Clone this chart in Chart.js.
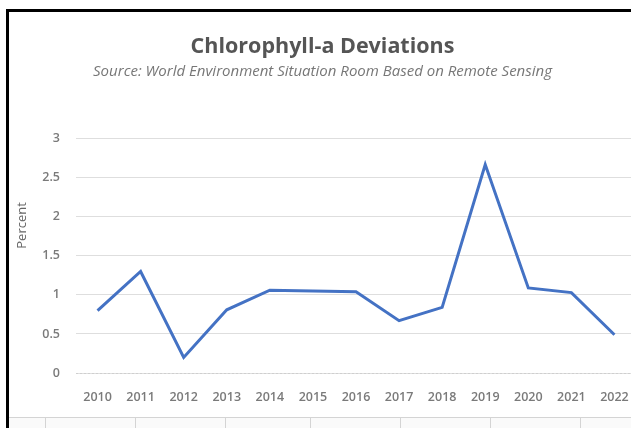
<!DOCTYPE html>
<html lang="en">
<head>
    <meta charset="UTF-8">
    <title>Chlorophyll-a Deviations</title>
    <script src="https://cdn.jsdelivr.net/npm/chart.js"></script>
    <style>
        html, body { margin: 0; padding: 0; background: #fff; overflow: hidden; width: 631px; height: 428px; }
        #frame {
            position: absolute; left: 6px; top: 9px;
            width: 660px; height: 430px;
            border-left: 3px solid #000; border-top: 3px solid #000;
        }
        #grafico { position: absolute; left: 0; top: 0; }
        #celulas {
            position: absolute; left: 0; top: 405px; width: 660px; height: 30px;
            border-top: 1px solid #d4d4d4; background: #fafafa;
        }
        .col { position: absolute; top: 0; height: 30px; border-left: 1px solid #d4d4d4; }
    </style>
</head>
<body>
    <div id="frame">
        <canvas id="grafico" width="640" height="410"></canvas>
        <div id="celulas">
            <div class="col" style="left:36px"></div>
            <div class="col" style="left:126px"></div>
            <div class="col" style="left:216px"></div>
            <div class="col" style="left:301px"></div>
            <div class="col" style="left:391px"></div>
            <div class="col" style="left:481px"></div>
            <div class="col" style="left:571px"></div>
        </div>
    </div>

    <script>
        // Dados
        var anos = ["2010", "2011", "2012", "2013", "2014", "2015", "2016",
                    "2017", "2018", "2019", "2020", "2021", "2022"];
        var desvios = [0.80, 1.30, 0.20, 0.81, 1.06, 1.05, 1.04,
                       0.67, 0.84, 2.67, 1.09, 1.03, 0.49];
        var ticksY = [0, 0.5, 1, 1.5, 2, 2.5, 3];

        var fonte = "'Open Sans', Lato, sans-serif";

        // titulo do eixo Y desenhado a mao (fica acima do centro)
        var tituloEixo = {
            id: "tituloEixo",
            afterDraw: function (chart) {
                var ctx = chart.ctx;
                var area = chart.chartArea;
                ctx.save();
                ctx.translate(13, area.top + (area.bottom - area.top) * 0.37);
                ctx.rotate(-Math.PI / 2);
                ctx.fillStyle = "#666666";
                ctx.font = "13px " + fonte;
                ctx.textAlign = "center";
                ctx.textBaseline = "middle";
                ctx.fillText("Percent", 0, 0);
                ctx.restore();
            }
        };

        // linha do zero tracejada
        var linhaZero = {
            id: "linhaZero",
            beforeDatasetsDraw: function (chart) {
                var c = chart.ctx;
                var area = chart.chartArea;
                var y0 = Math.round(chart.scales.y.getPixelForValue(0));
                c.save();
                c.strokeStyle = "#cfcfcf";
                c.lineWidth = 1;
                c.setLineDash([2, 2]);
                c.beginPath();
                c.moveTo(area.left, y0 + 0.5);
                c.lineTo(area.right, y0 + 0.5);
                c.stroke();
                c.restore();
            }
        };

        var ctx = document.getElementById("grafico").getContext("2d");
        var grafico = new Chart(ctx, {
            type: "line",
            data: {
                labels: anos,
                datasets: [{
                    label: "Chlorophyll-a",
                    data: desvios,
                    borderColor: "#4472c4",
                    borderWidth: 3,
                    pointRadius: 0,
                    tension: 0,
                    fill: false
                }]
            },
            options: {
                responsive: false,
                animation: false,
                devicePixelRatio: 1,
                layout: { padding: { left: 0, right: 13, top: 0, bottom: 0 } },
                plugins: {
                    legend: { display: false },
                    tooltip: { enabled: false },
                    title: {
                        display: true,
                        text: "Chlorophyll-a Deviations",
                        color: "#555555",
                        font: { family: fonte, size: 21.5, weight: "bold" },
                        padding: { top: 22, bottom: 2 }
                    },
                    subtitle: {
                        display: true,
                        text: "Source: World Environment Situation Room Based on Remote Sensing",
                        color: "#777777",
                        font: { family: fonte, size: 15, style: "italic" },
                        padding: { top: 1, bottom: 58 }
                    }
                },
                scales: {
                    x: {
                        offset: true,
                        grid: { display: false, drawTicks: false },
                        border: { display: false },
                        ticks: {
                            color: "#7a7a7a",
                            padding: 17,
                            maxRotation: 0,
                            autoSkip: false,
                            font: { family: fonte, size: 12.5, weight: "600" }
                        }
                    },
                    y: {
                        min: 0,
                        max: 3,
                        afterFit: function (scale) { scale.width = 67; },
                        afterBuildTicks: function (scale) {
                            scale.ticks = ticksY.map(function (v) { return { value: v }; });
                        },
                        grid: {
                            drawTicks: false,
                            color: "#dedede",
                            lineWidth: 1
                        },
                        border: { display: false },
                        ticks: {
                            color: "#7a7a7a",
                            padding: 16,
                            font: { family: fonte, size: 12.5, weight: "600" },
                            callback: function (v) { return String(v); }
                        }
                    }
                }
            },
            plugins: [tituloEixo, linhaZero]
        });
    </script>
</body>
</html>
